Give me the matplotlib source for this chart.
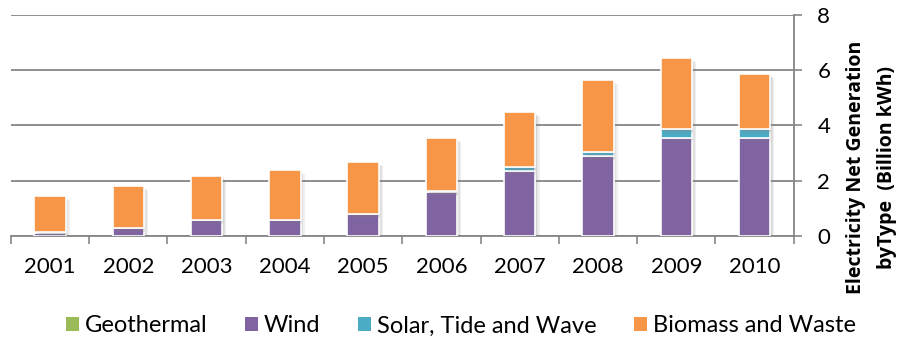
import matplotlib
matplotlib.use("Agg")
import matplotlib.pyplot as plt
import matplotlib.patheffects as pe
import numpy as np

years = ["2001", "2002", "2003", "2004", "2005", "2006", "2007", "2008", "2009", "2010"]
geothermal = [0.0, 0.0, 0.0, 0.0, 0.0, 0.0, 0.0, 0.0, 0.0, 0.0]
wind = [0.12, 0.29, 0.58, 0.58, 0.79, 1.58, 2.37, 2.90, 3.56, 3.56]
solar = [0.01, 0.01, 0.01, 0.01, 0.02, 0.05, 0.12, 0.14, 0.30, 0.30]
biomass = [1.32, 1.51, 1.58, 1.80, 1.87, 1.92, 1.99, 2.61, 2.59, 2.01]

series = [
    ("Geothermal", geothermal, "#9BBB59"),
    ("Wind", wind, "#8064A2"),
    ("Solar, Tide and Wave", solar, "#4BACC6"),
    ("Biomass and Waste", biomass, "#F79646"),
]

plt.rcParams["font.family"] = ["Lato", "DejaVu Sans"]

fig = plt.figure(figsize=(9.04, 3.41), dpi=100)
ax = fig.add_axes([0.012, 0.308, 0.866, 0.648])

x = np.arange(len(years))
bottom = np.zeros(len(years))
# soft drop shadow built from a few faint offset copies
shadow = [pe.SimplePatchShadow(offset=(o, -o), shadow_rgbFace="#7f7f7f", alpha=0.12)
          for o in (1, 2, 3)] + [pe.Normal()]
for name, vals, col in series:
    vals = np.array(vals)
    bars = ax.bar(x, vals, width=0.4, bottom=bottom, color=col, edgecolor="white",
                  linewidth=1.2, zorder=3, label=name)
    for b in bars:
        b.set_path_effects(shadow)
    bottom += vals

ax.set_xlim(-0.5, len(years) - 0.5)
ax.set_ylim(0, 8)
ax.set_yticks([0, 2, 4, 6, 8])
ax.yaxis.tick_right()
ax.tick_params(axis="y", length=6, color="#868686", width=1.2, labelsize=16, pad=11)
ax.set_xticks(x)
ax.set_xticklabels(years)
ax.tick_params(axis="x", which="major", length=0, labelsize=16, pad=15)
ax.set_xticks(np.arange(-0.5, len(years)), minor=True)
ax.tick_params(axis="x", which="minor", length=6, color="#868686", width=1.2)
ax.yaxis.grid(True, color="#868686", linewidth=1.3, zorder=0)

for s in ["top", "left"]:
    ax.spines[s].set_visible(False)
for s in ["right", "bottom"]:
    ax.spines[s].set_color("#868686")
    ax.spines[s].set_linewidth(1.3)

label_font = dict(rotation=90, fontsize=14, fontweight="bold", ha="center",
                  va="center", family=["Open Sans", "DejaVu Sans"])
fig.text(0.947, 0.51, "Electricity Net Generation", **label_font)
fig.text(0.981, 0.51, "byType  (Billion kWh)", **label_font)

leg_handles = [plt.Rectangle((0, 0), 1, 1, facecolor=c, edgecolor="white", linewidth=0)
               for _, _, c in series]
fig.legend(handles=leg_handles, labels=[s[0] for s in series], loc="center",
           bbox_to_anchor=(0.51, 0.044), ncol=4, frameon=False, fontsize=17,
           handlelength=0.55, handleheight=0.55, handletextpad=0.25, columnspacing=1.6)

fig.savefig("out.png", dpi=100)
